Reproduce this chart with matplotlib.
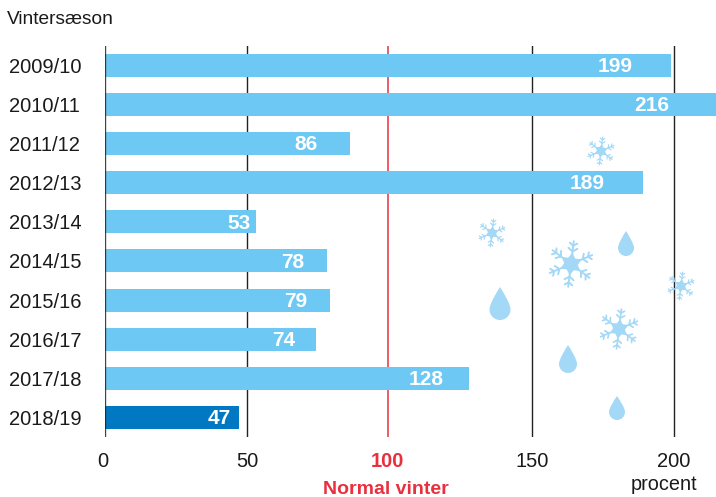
import numpy as np
import matplotlib
matplotlib.use('Agg')
import matplotlib.pyplot as plt
from matplotlib.path import Path
from matplotlib.patches import PathPatch

plt.rcParams['font.family'] = ['Liberation Sans', 'DejaVu Sans']

# Data
seasons = ['2009/10', '2010/11', '2011/12', '2012/13', '2013/14',
           '2014/15', '2015/16', '2016/17', '2017/18', '2018/19']
values = [199, 216, 86, 189, 53, 78, 79, 74, 128, 47]
ticks = [0, 50, 100, 150, 200]

# Gap in pixels between bar end and the right edge of its label (not constant in the original)
label_gap = [39, 50, 32, 38, 5, 23, 23, 20, 26, 8]

W, H = 716, 497
PX = 2.845
LIGHT = '#6ec8f4'
DARK = '#0079c2'
RED = '#e8303f'
ICE = '#a3d8f7'

fig = plt.figure(figsize=(W / 100, H / 100), dpi=100)
ax = fig.add_axes([105 / W, 1 - 436.5 / H, 611 / W, 391 / H])
ax.set_xlim(0, 611 / PX)
ax.set_ylim(9.49, -0.51)

# Bars
colors = [LIGHT] * 9 + [DARK]
ax.barh(range(len(values)), values, height=0.59, color=colors, zorder=2)

# Vertical lines
for t in ticks:
    if t == 100:
        ax.axvline(t - 0.4, color=RED, lw=1.1, zorder=1)
    elif t == 0:
        ax.axvline(t, color='#222222', lw=1.7, zorder=3, alpha=0.85)
    else:
        ax.axvline(t, color='#222222', lw=1.0, zorder=1)

for i, v in enumerate(values):
    ax.text(v - label_gap[i] / PX, i + 0.03, str(v), color='white', fontsize=15, fontweight='bold',
            ha='right', va='center', zorder=4, clip_on=True)

ax.set_xticks([])
ax.set_yticks([])
for s in ax.spines.values():
    s.set_visible(False)
ax.patch.set_alpha(0)

# Text in pixel positions
def label(x, y, s, **kw):
    fig.text(x / W, 1 - (y + 1.5) / H, s, va='center', **kw)

label(7, 18, 'Vintersæson', fontsize=13.8, color='#1a1a1a')
for i, s in enumerate(seasons):
    label(9, 66 + 39.1 * i, s, fontsize=14.5, color='#1a1a1a')
for t in ticks:
    x = 105 + PX * t
    if t in (0, 100):
        x -= 2
    label(x, 460, str(t), fontsize=14.5, ha='center',
          color=RED if t == 100 else '#1a1a1a',
          fontweight='bold' if t == 100 else 'normal')
label(386, 488, 'Normal vinter', fontsize=14, ha='center', color=RED, fontweight='bold')
label(664.5, 483, 'procent', fontsize=14.3, ha='center', color='#1a1a1a')

# Decorations: overlay in pixel coordinates
deco = fig.add_axes([0, 0, 1, 1], zorder=5)
deco.set_xlim(0, W)
deco.set_ylim(H, 0)
deco.axis('off')


def snowflake(cx, cy, r, rot):
    lw = r * 0.06
    for k in range(6):
        a = np.radians(rot + 60 * k)
        ux, uy = np.cos(a), np.sin(a)
        deco.plot([cx, cx + r * ux], [cy, cy + r * uy], color=ICE, lw=lw, solid_capstyle='round')
        for frac, side in [(0.55, 0.24), (0.8, 0.2)]:
            bx, by = cx + frac * r * ux, cy + frac * r * uy
            for d in (-55, 55):
                b = a + np.radians(d)
                deco.plot([bx, bx + side * r * np.cos(b)], [by, by + side * r * np.sin(b)],
                          color=ICE, lw=lw, solid_capstyle='round')
    # filled hub
    angs = np.radians(rot + np.arange(0, 360, 30))
    rad = np.where(np.arange(12) % 2 == 0, 0.5 * r, 0.3 * r)
    deco.fill(cx + rad * np.cos(angs), cy + rad * np.sin(angs), color=ICE, lw=0)


def drop(cx, top, w, h):
    r = w / 2
    bot = top + h
    cy = bot - r
    k = 0.5523 * r
    verts = [(cx, top),
             (cx - 0.4 * r, top + 0.2 * h), (cx - r, cy - 0.5 * r), (cx - r, cy),
             (cx - r, cy + k), (cx - k, bot), (cx, bot),
             (cx + k, bot), (cx + r, cy + k), (cx + r, cy),
             (cx + r, cy - 0.5 * r), (cx + 0.4 * r, top + 0.2 * h), (cx, top)]
    codes = [Path.MOVETO] + [Path.CURVE4] * 12
    deco.add_patch(PathPatch(Path(verts, codes), facecolor=ICE, edgecolor='none'))


for cx, cy, r, rot in [(601, 151, 14, 37), (492, 233, 14, 37), (571, 264, 23, 37),
                       (681, 286, 14, 37), (619, 329, 20, 37)]:
    snowflake(cx, cy, r, rot)
for cx, top, w, h in [(626, 231, 16, 25), (500, 287, 21, 33), (568, 345, 18, 28), (617, 396, 16, 24)]:
    drop(cx, top, w, h)

fig.savefig('out.png', dpi=100)
